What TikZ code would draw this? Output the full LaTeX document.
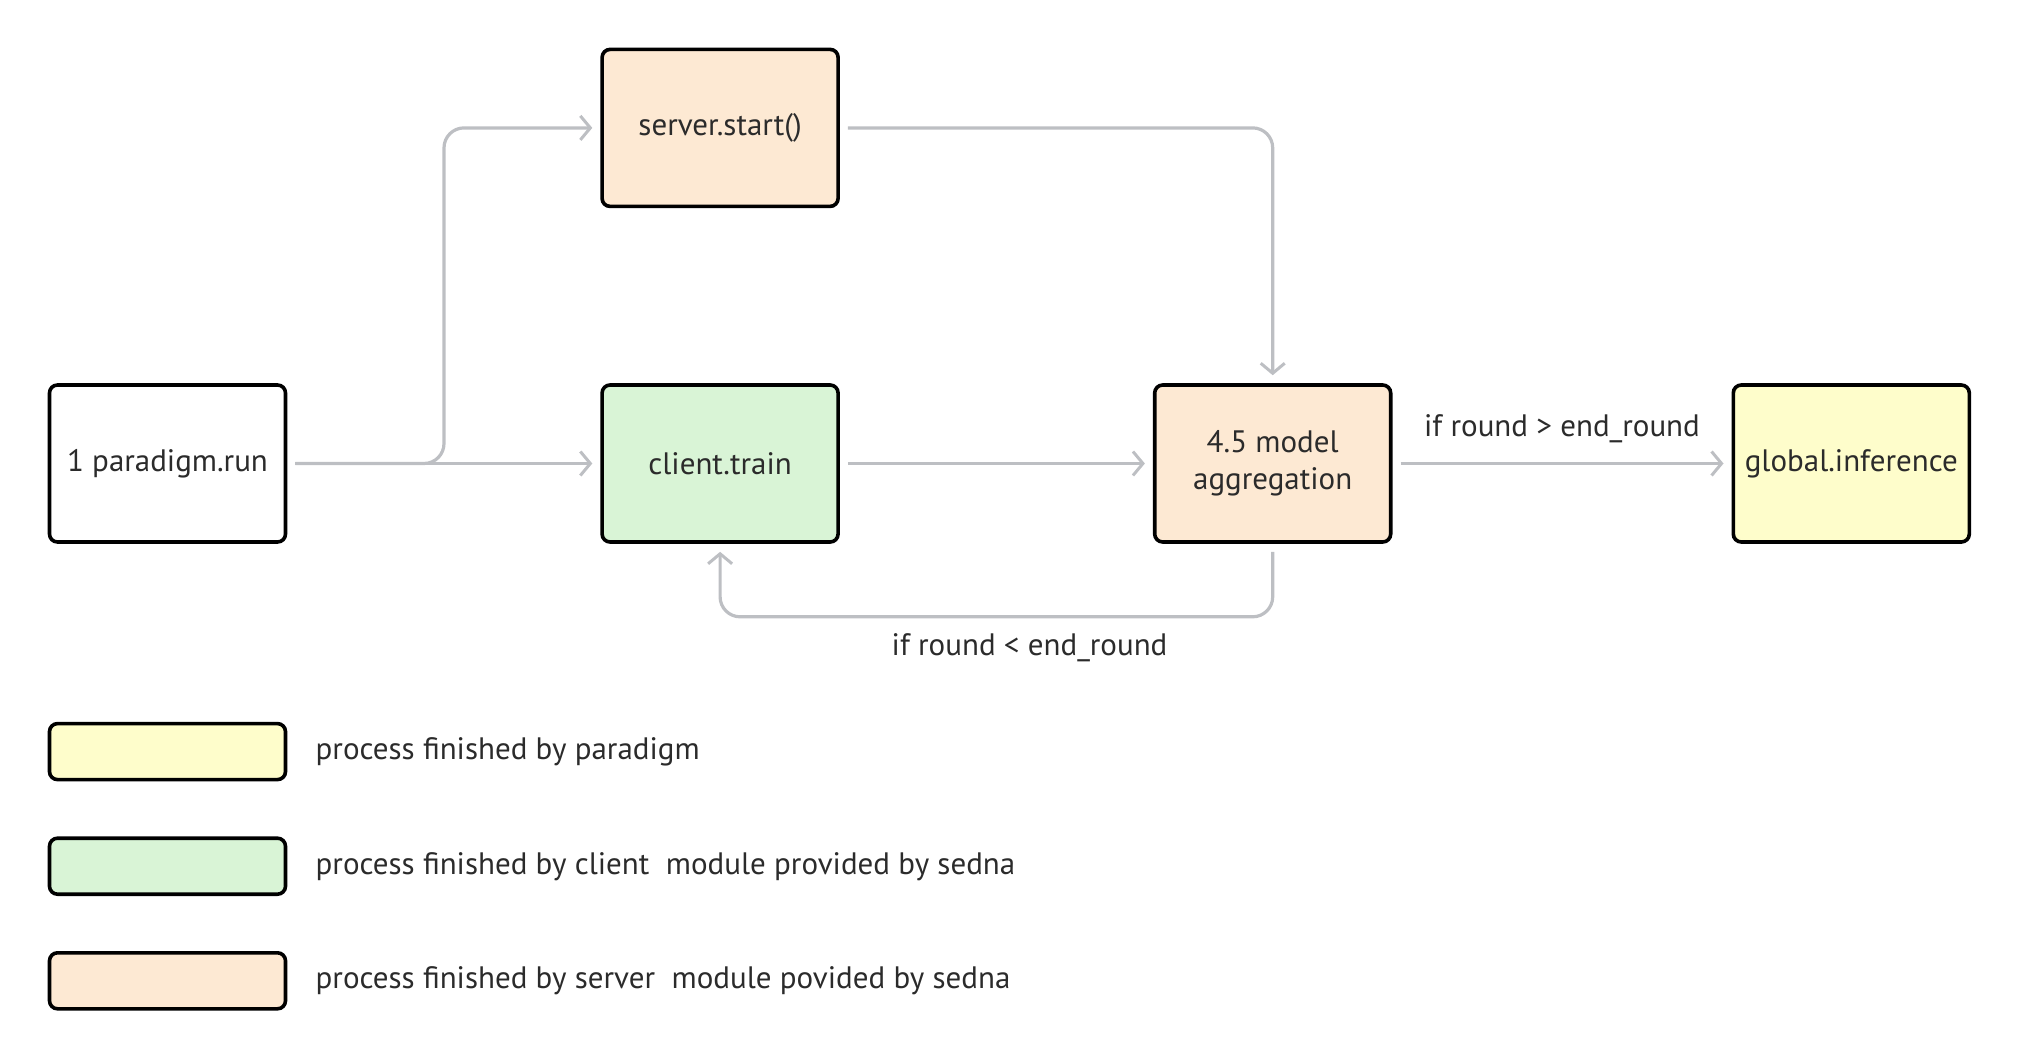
\documentclass[tikz,border=0pt]{standalone}
\usepackage{fontspec}
\setmainfont{PT Sans}
\usepackage{tikz}
\usetikzlibrary{arrows.meta,positioning}
\definecolor{serverpeach}{HTML}{FDE9D3}
\definecolor{clientgreen}{HTML}{D9F4D6}
\definecolor{paradigmyellow}{HTML}{FEFDCB}
\definecolor{flowgray}{HTML}{BDBFC3}
\definecolor{textgray}{HTML}{2B2B2B}

\begin{document}
\begin{tikzpicture}[
    x=0.5pt, y=-0.5pt,
    font=\fontsize{15.5}{18.5}\selectfont, text=textgray,
    stage/.style={rectangle, rounded corners=4pt, draw=black, fill=#1,
                  line width=1.8pt, minimum width=118pt, minimum height=78.5pt,
                  align=center, inner sep=2pt},
    legendbox/.style={rectangle, rounded corners=4pt, draw=black, fill=#1,
                  line width=1.8pt, minimum width=118pt, minimum height=28pt},
    flow/.style={-{Straight Barb[length=5pt, width=12pt, line width=1.5pt]},
                 line width=1.6pt, flowgray, shorten >=4pt, shorten <=4pt,
                 rounded corners=10pt},
    cond/.style={text=textgray},
]
    \useasboundingbox (0,0) rectangle (2020,1060);

    % Stages
    \node[stage=white] (run) at (167.5,463.5) {1 paradigm.run};
    \node[stage=clientgreen, right=156.5pt of run] (train) {client.train};
    \node[stage=serverpeach, above=87.5pt of train] (start) {server.start()};
    \node[stage=serverpeach, right=156.5pt of train] (aggr) {4.5 model\\aggregation};
    \node[stage=paradigmyellow, right=169.5pt of aggr] (infer) {global.inference};

    % Flow
    \coordinate (fork) at (444,463.5);
    \draw[flow] (run) -- (train);
    \draw[flow] (run.east) -- (fork) |- (start.west);
    \draw[flow] (start.east) -| (aggr.north);
    \draw[flow] (train) -- (aggr);
    \draw[flow] (aggr) -- (infer)
        node[cond, midway, above=6pt] {if round > end\_round};
    \draw[flow] (aggr.south) -- ++(0,73) -| (train.south)
        node[cond, pos=0.22, below=4pt] {if round < end\_round};

    % Legend
    \node[legendbox=paradigmyellow, below=89pt of run] (keyparadigm) {};
    \node[legendbox=clientgreen, below=27.5pt of keyparadigm] (keyclient) {};
    \node[legendbox=serverpeach, below=27.5pt of keyclient] (keyserver) {};
    \node[right=14pt of keyparadigm, inner sep=0pt] (txtparadigm)
        {process finished by paradigm};
    \node[right=14pt of keyclient, inner sep=0pt] (txtclient)
        {process finished by client\ \ module provided by sedna};
    \node[right=14pt of keyserver, inner sep=0pt] (txtserver)
        {process finished by server\ \ module povided by sedna};
\end{tikzpicture}
\end{document}
